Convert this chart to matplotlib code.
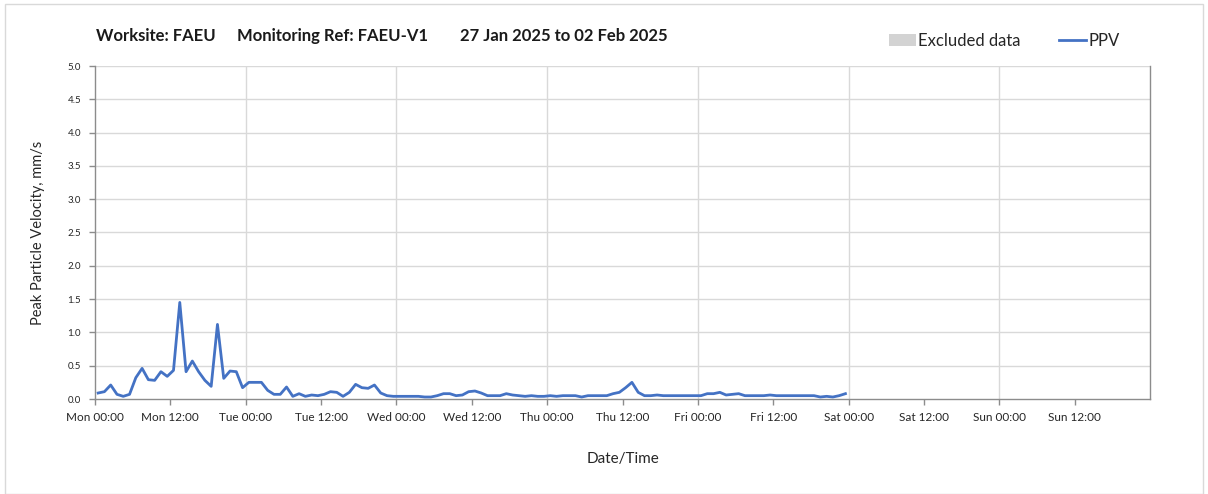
import matplotlib.pyplot as plt
from matplotlib.patches import Patch, Rectangle
from matplotlib.lines import Line2D
import numpy as np

# hourly PPV readings (mm/s), first reading at Mon 00:30
hours = np.arange(120) + 0.5
ppv = [
    0.09, 0.11, 0.21, 0.07, 0.04, 0.07, 0.32, 0.46, 0.29, 0.28,
    0.41, 0.34, 0.43, 1.45, 0.41, 0.57, 0.41, 0.28, 0.19, 1.12,
    0.31, 0.42, 0.41, 0.17, 0.25, 0.25, 0.25, 0.13, 0.07, 0.07,
    0.18, 0.04, 0.08, 0.04, 0.06, 0.05, 0.07, 0.11, 0.10, 0.04,
    0.10, 0.22, 0.17, 0.16, 0.21, 0.09, 0.05, 0.04, 0.04, 0.04,
    0.04, 0.04, 0.03, 0.03, 0.05, 0.08, 0.08, 0.05, 0.06, 0.11,
    0.12, 0.09, 0.05, 0.05, 0.05, 0.08, 0.06, 0.05, 0.04, 0.05,
    0.04, 0.04, 0.05, 0.04, 0.05, 0.05, 0.05, 0.03, 0.05, 0.05,
    0.05, 0.05, 0.08, 0.10, 0.17, 0.25, 0.10, 0.05, 0.05, 0.06,
    0.05, 0.05, 0.05, 0.05, 0.05, 0.05, 0.05, 0.08, 0.08, 0.10,
    0.06, 0.07, 0.08, 0.05, 0.05, 0.05, 0.05, 0.06, 0.05, 0.05,
    0.05, 0.05, 0.05, 0.05, 0.05, 0.03, 0.04, 0.03, 0.05, 0.08,
]

tick_hours = np.arange(0, 168, 12)
tick_labels = ["Mon 00:00", "Mon 12:00", "Tue 00:00", "Tue 12:00",
               "Wed 00:00", "Wed 12:00", "Thu 00:00", "Thu 12:00",
               "Fri 00:00", "Fri 12:00", "Sat 00:00", "Sat 12:00",
               "Sun 00:00", "Sun 12:00"]

title_parts = ["Worksite: FAEU", "Monitoring Ref: FAEU-V1", "27 Jan 2025 to 02 Feb 2025"]
title_x = [96, 237, 460]

plt.rcParams["font.family"] = ["Lato", "DejaVu Sans"]
text_col = "#262626"
grid_col = "#d9d9d9"
axis_col = "#8c8c8c"

fig = plt.figure(figsize=(12.08, 4.94), dpi=100)
ax = fig.add_axes([95 / 1208, 1 - 399 / 494, 1055 / 1208, 333 / 494])

# light border round the whole chart
fig.patches.append(Rectangle((5 / 1208, 0), 1198 / 1208, 1 - 4 / 494,
                             transform=fig.transFigure, fill=False,
                             edgecolor="#d9d9d9", linewidth=1))

ax.plot(hours, ppv, color="#4472c4", linewidth=2, zorder=3)

ax.set_xlim(0, 168)
ax.set_ylim(0, 5)
ax.set_xticks(tick_hours)
ax.set_xticklabels(tick_labels, fontsize=8.5, color=text_col)
ax.set_yticks(np.arange(0, 5.01, 0.5))
ax.set_yticklabels([f"{v:.1f}" for v in np.arange(0, 5.01, 0.5)],
                   fontsize=7, color=text_col)

for y in np.arange(0.5, 5.01, 0.5):
    ax.axhline(y, color=grid_col, linewidth=1, zorder=1)
for x in range(24, 168, 24):
    ax.axvline(x, color=grid_col, linewidth=1, zorder=1)

ax.spines["top"].set_visible(False)
for side in ["left", "bottom", "right"]:
    ax.spines[side].set_color(axis_col)
    ax.spines[side].set_linewidth(1)
ax.tick_params(axis="both", color=axis_col, length=4, width=1)
ax.tick_params(axis="x", pad=5)
ax.tick_params(axis="y", pad=6)

ax.set_xlabel("Date/Time", fontsize=11, color=text_col, labelpad=21)
ax.set_ylabel("Peak Particle Velocity, mm/s", fontsize=10.5, color=text_col, labelpad=16)

for part, px in zip(title_parts, title_x):
    fig.text(px / 1208, 1 - 36 / 494, part, fontsize=12, fontweight="bold",
             color="#1a1a1a", va="center")

handles = [Patch(facecolor="#d3d3d3", edgecolor="none", label="Excluded data"),
           Line2D([], [], color="#4472c4", linewidth=2, label="PPV")]
fig.legend(handles=handles, loc="center left", ncol=2, frameon=False,
           bbox_to_anchor=(874 / 1208, 1 - 41 / 494), fontsize=12,
           handlelength=1.6, handletextpad=0.15, columnspacing=2.3,
           labelcolor=text_col)

fig.savefig("out.png", dpi=100)
